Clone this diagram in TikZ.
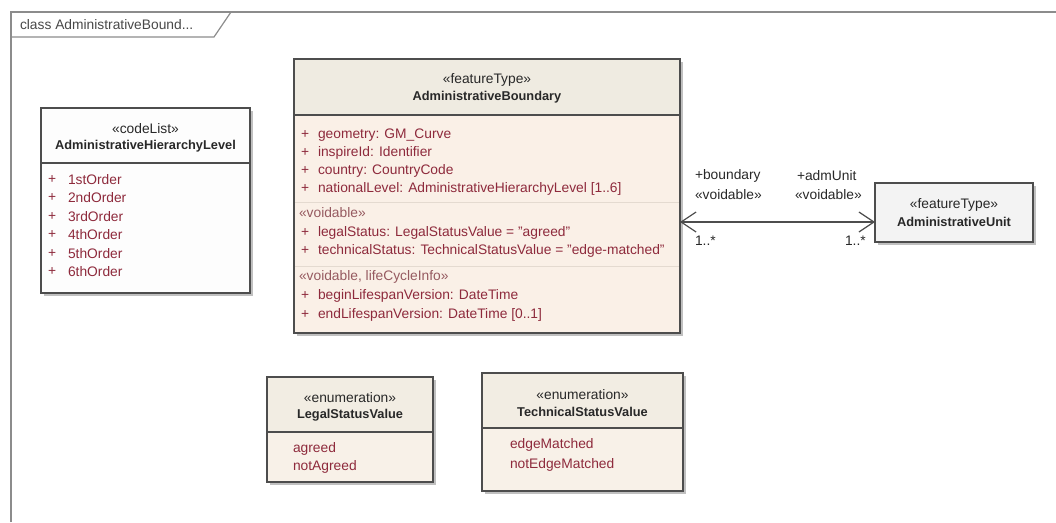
\documentclass[tikz,border=0pt]{standalone}
\usepackage{fontspec}
\setmainfont{Liberation Sans}
\usetikzlibrary{arrows.meta}

\definecolor{boxline}{RGB}{77,77,77}
\definecolor{attrred}{RGB}{142,42,60}
\definecolor{stred}{RGB}{150,90,96}
\definecolor{darktext}{RGB}{40,40,40}
\definecolor{framecol}{RGB}{140,140,140}
\definecolor{shadowcol}{RGB}{150,150,150}
\definecolor{mainhdr}{RGB}{239,235,225}
\definecolor{mainbody}{RGB}{250,240,231}
\definecolor{enumhdr}{RGB}{242,237,227}
\definecolor{enumbody}{RGB}{248,241,232}
\definecolor{unitfill}{RGB}{243,243,243}
\definecolor{codefill}{RGB}{253,253,253}
\definecolor{seccol}{RGB}{228,218,208}

\begin{document}
\begin{tikzpicture}[x=1pt,y=-1pt,
  every node/.style={inner sep=0pt,outer sep=0pt,font=\fontsize{13.8}{15}\selectfont},
  classbox/.style={rectangle,draw=none,fill=#1},
  border/.style={draw=boxline,line width=1.2pt},
  shadowbox/.style={fill=shadowcol,opacity=0.6},
  stereo/.style={text=darktext,anchor=center},
  cname/.style={text=darktext,anchor=center,font=\fontsize{12.8}{15}\selectfont\bfseries},
  vis/.style={text=attrred,anchor=west},
  attr/.style={text=attrred,anchor=west},
  secst/.style={text=stred,anchor=west},
  rolelabel/.style={text=darktext,anchor=west},
  assoc/.style={draw=boxline,line width=1.2pt,
    {Straight Barb[length=15pt,width=20pt]}-{Straight Barb[length=15pt,width=20pt]}},
  framestyle/.style={draw=framecol,line width=1.6pt}]

\useasboundingbox (0,0) rectangle (1056,522);

% diagram frame with its name tab
\draw[framestyle] (11,522) -- (11,12) -- (1056,12);
\draw[framestyle,line width=1.2pt] (11,37) -- (214,37) -- (231,12);
\node[text=darktext!85,anchor=west] (frametitle) at (20,25) {class AdministrativeBound...};

% ---------- codeList AdministrativeHierarchyLevel ----------
\fill[shadowbox] (44,111) rectangle (253,296);
\node[classbox=codefill,minimum width=209pt,minimum height=185pt] (hier) at (145.5,200.5) {};
\draw[border] (hier.north west) rectangle (hier.south east);
\draw[border] (hier.west |- 0,163) -- (hier.east |- 0,163);
\node[stereo] (hierst) at (145.5,129) {«codeList»};
\node[cname] (hiername) at (145.5,146) {AdministrativeHierarchyLevel};
\foreach \lbl/\yy [count=\i] in {1stOrder/180,2ndOrder/198,3rdOrder/217,4thOrder/235,5thOrder/254,6thOrder/272}{
  \node[vis] (hierv\i) at (48,\yy) {+};
  \node[attr] (hiera\i) at (68,\yy) {\lbl};
}

% ---------- featureType AdministrativeBoundary ----------
\fill[shadowbox] (297,62) rectangle (683,336);
\node[classbox=mainbody,minimum width=386pt,minimum height=274pt] (bnd) at (487,196) {};
\fill[mainhdr] (bnd.north west) rectangle (bnd.east |- 0,115);
\draw[seccol,line width=0.8pt] (bnd.west |- 0,202) -- (bnd.east |- 0,202);
\draw[seccol,line width=0.8pt] (bnd.west |- 0,266) -- (bnd.east |- 0,266);
\draw[border] (bnd.north west) rectangle (bnd.south east);
\draw[border] (bnd.west |- 0,115) -- (bnd.east |- 0,115);
\node[stereo] (bndst) at (487,80) {«featureType»};
\node[cname] (bndname) at (487,97) {AdministrativeBoundary};
\foreach \lbl/\yy [count=\i] in {
  {geometry: GM\_Curve}/135,
  {inspireId: Identifier}/153,
  {country: CountryCode}/171,
  {nationalLevel: AdministrativeHierarchyLevel [1..6]}/189,
  {legalStatus: LegalStatusValue = "agreed"}/233,
  {technicalStatus: TechnicalStatusValue = "edge-matched"}/251,
  {beginLifespanVersion: DateTime}/296,
  {endLifespanVersion: DateTime [0..1]}/315}{
  \node[vis] (bndv\i) at (301,\yy) {+};
  \node[attr] (bnda\i) at (318,\yy) {\lbl};
}
\node[secst] (bndsec1) at (299,213) {«voidable»};
\node[secst] (bndsec2) at (299,277) {«voidable, lifeCycleInfo»};

% ---------- featureType AdministrativeUnit ----------
\fill[shadowbox] (878,186) rectangle (1036,245);
\node[classbox=unitfill,minimum width=158pt,minimum height=59pt] (unit) at (954,212.5) {};
\draw[border] (unit.north west) rectangle (unit.south east);
\node[stereo] (unitst) at (954,205) {«featureType»};
\node[cname] (unitname) at (954,222) {AdministrativeUnit};

% ---------- enumeration LegalStatusValue ----------
\fill[shadowbox] (270,380) rectangle (436,485);
\node[classbox=enumbody,minimum width=166pt,minimum height=105pt] (legal) at (350,429.5) {};
\fill[enumhdr] (legal.north west) rectangle (legal.east |- 0,432);
\draw[border] (legal.north west) rectangle (legal.south east);
\draw[border] (legal.west |- 0,432) -- (legal.east |- 0,432);
\node[stereo] (legalst) at (350,398) {«enumeration»};
\node[cname] (legalname) at (350,415) {LegalStatusValue};
\node[attr] (legal1) at (293,449) {agreed};
\node[attr] (legal2) at (293,467) {notAgreed};

% ---------- enumeration TechnicalStatusValue ----------
\fill[shadowbox] (485,376) rectangle (686,494);
\node[classbox=enumbody,minimum width=201pt,minimum height=118pt] (tech) at (582.5,432) {};
\fill[enumhdr] (tech.north west) rectangle (tech.east |- 0,428);
\draw[border] (tech.north west) rectangle (tech.south east);
\draw[border] (tech.west |- 0,428) -- (tech.east |- 0,428);
\node[stereo] (techst) at (582.5,395) {«enumeration»};
\node[cname] (techname) at (582.5,412) {TechnicalStatusValue};
\node[attr] (tech1) at (510,445) {edgeMatched};
\node[attr] (tech2) at (510,465) {notEdgeMatched};

% ---------- association boundary <-> admUnit ----------
\coordinate (assocy) at (0,222);
\draw[assoc] (bnd.east |- assocy) -- (unit.west |- assocy);
\node[rolelabel] (role1) at (695,176) {+boundary};
\node[rolelabel] (role1st) at (695,195) {«voidable»};
\node[rolelabel] (mult1) at (695,241) {1..*};
\node[rolelabel] (role2) at (797,176) {+admUnit};
\node[rolelabel] (role2st) at (795,195) {«voidable»};
\node[rolelabel] (mult2) at (845,241) {1..*};

\end{tikzpicture}
\end{document}
